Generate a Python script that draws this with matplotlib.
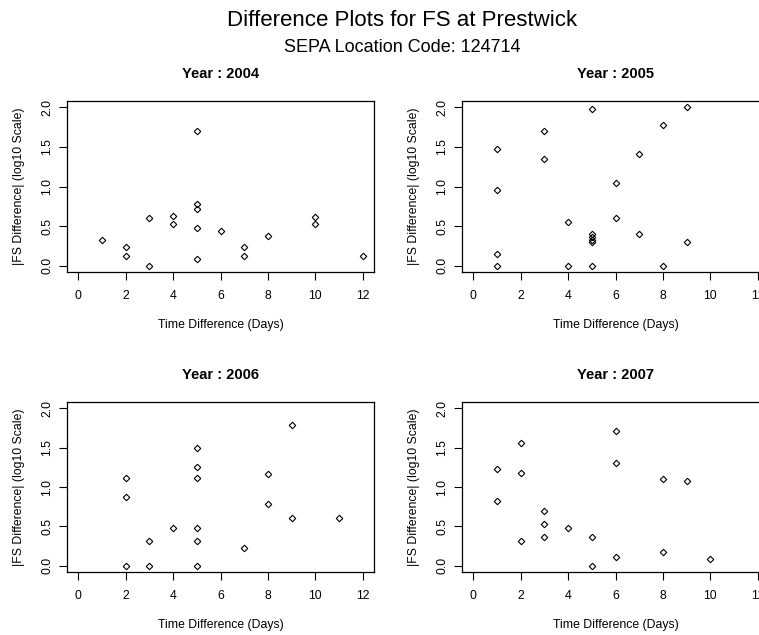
import matplotlib
matplotlib.use('Agg')
import matplotlib.pyplot as plt
from matplotlib.ticker import FormatStrFormatter

plt.rcParams['font.family'] = ['Liberation Sans', 'DejaVu Sans']

years = ['2004', '2005', '2006', '2007']

days_2004 = [1, 2, 2, 3, 3, 4, 4, 5, 5, 5, 5, 5, 6, 7, 7, 8, 10, 10, 12]
diff_2004 = [0.33, 0.24, 0.12, 0.60, 0.0, 0.63, 0.53, 1.70, 0.78, 0.71, 0.47, 0.09,
             0.44, 0.23, 0.12, 0.38, 0.61, 0.53, 0.12]

days_2005 = [1, 1, 1, 1, 3, 3, 4, 4, 5, 5, 5, 5, 5, 5, 6, 6, 7, 7, 8, 8, 9, 9]
diff_2005 = [1.48, 0.96, 0.15, 0.0, 1.70, 1.35, 0.55, 0.0, 1.98, 0.40, 0.36, 0.33,
             0.30, 0.0, 1.04, 0.60, 1.41, 0.40, 1.78, 0.0, 2.0, 0.30]

days_2006 = [2, 2, 2, 3, 3, 4, 5, 5, 5, 5, 5, 5, 7, 8, 8, 9, 9, 11]
diff_2006 = [1.12, 0.87, 0.0, 0.31, 0.0, 0.48, 1.49, 1.25, 1.12, 0.48, 0.31, 0.0,
             0.23, 1.16, 0.79, 1.79, 0.61, 0.61]

days_2007 = [1, 1, 2, 2, 2, 3, 3, 3, 4, 5, 5, 6, 6, 6, 8, 8, 9, 10]
diff_2007 = [1.23, 0.82, 1.56, 1.18, 0.31, 0.70, 0.53, 0.36, 0.48, 0.37, 0.0,
             1.71, 1.31, 0.11, 1.10, 0.18, 1.07, 0.08]

x_ticks = [0, 2, 4, 6, 8, 10, 12]
y_ticks = [0.0, 0.5, 1.0, 1.5, 2.0]

W, H = 759, 635
fig = plt.figure(figsize=(W / 100, H / 100), dpi=100)

# panel boxes in pixels (left, top, right, bottom); right column runs off the edge
boxes = [(67, 101, 374, 272), (462, 101, 769, 272),
         (67, 402, 374, 572), (462, 402, 769, 572)]
data = [(days_2004, diff_2004), (days_2005, diff_2005),
        (days_2006, diff_2006), (days_2007, diff_2007)]

for (l, t, r, b), (xs, ys), yr in zip(boxes, data, years):
    ax = fig.add_axes([l / W, 1 - b / H, (r - l) / W, (b - t) / H])
    ax.plot(xs, ys, linestyle='none', marker='D', markersize=3.3,
            markerfacecolor='none', markeredgecolor='black', markeredgewidth=0.8)
    ax.set_xlim(-0.48, 12.48)
    ax.set_ylim(-0.08, 2.08)
    ax.set_xticks(x_ticks)
    ax.set_yticks(y_ticks)
    ax.yaxis.set_major_formatter(FormatStrFormatter('%.1f'))
    ax.tick_params(direction='out', length=5.5, width=0.8, labelsize=8.8, color='black')
    ax.tick_params(axis='x', pad=7.5)
    ax.tick_params(axis='y', pad=4.5, labelrotation=90)
    for lab in ax.get_yticklabels():
        lab.set_va('center')
    for sp in ax.spines.values():
        sp.set_linewidth(0.9)
        sp.set_color('black')
    ax.set_xlabel('Time Difference (Days)', fontsize=8.8, va='center')
    ax.xaxis.set_label_coords(0.5, (272 - 325) / 171)
    ax.set_ylabel('|FS Difference| (log10 Scale)', fontsize=8.8, va='center')
    ax.yaxis.set_label_coords((19 - 67) / 307, 0.5)
    fig.text((l + r) / 2 / W, 1 - (t - 27) / H, 'Year : ' + yr,
             ha='center', va='center', fontsize=10.5, fontweight='bold')

fig.text(402 / W, 1 - 20 / H, 'Difference Plots for FS at Prestwick',
         ha='center', va='center', fontsize=16)
fig.text(402 / W, 1 - 47 / H, 'SEPA Location Code: 124714',
         ha='center', va='center', fontsize=13)

fig.savefig('out.png', dpi=100)
